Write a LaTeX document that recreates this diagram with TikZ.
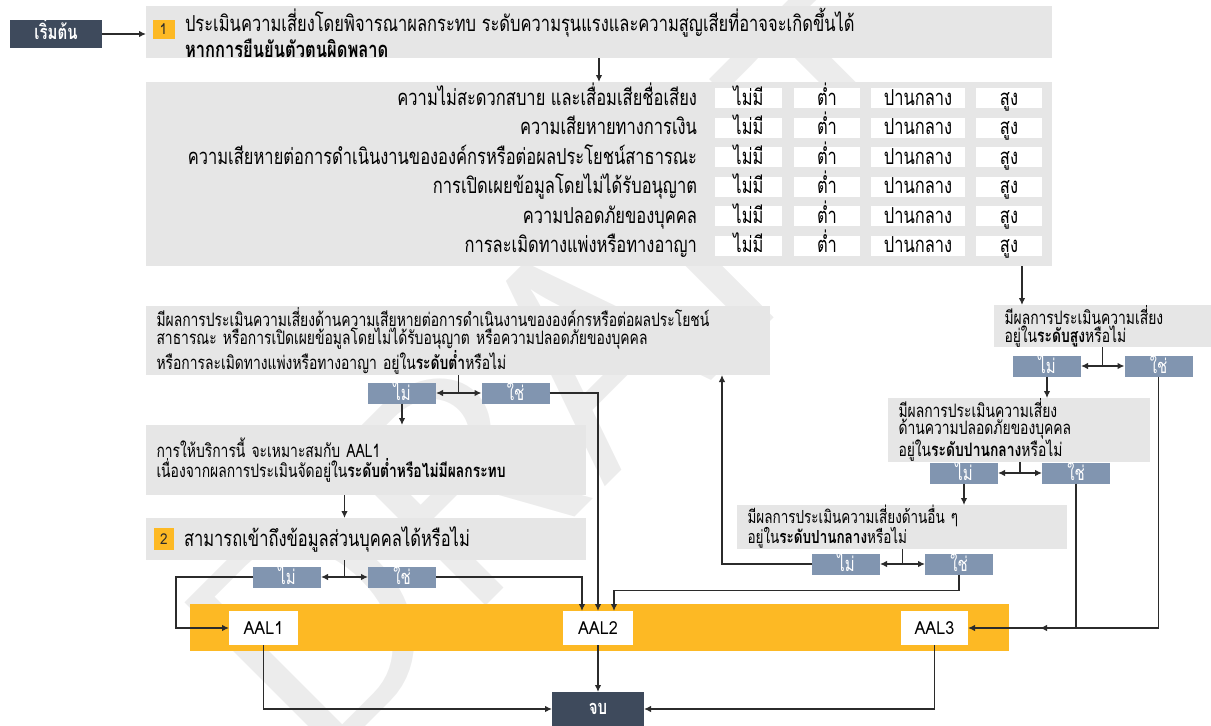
\documentclass[tikz,border=0pt]{standalone}
\usepackage{fontspec}
\setmainfont[Script=Thai,FakeStretch=0.75]{Loma}
\newfontfamily\aalfont[FakeStretch=0.9]{Loma}
\usetikzlibrary{arrows.meta,calc}

\definecolor{panelgray}{HTML}{E6E6E6}
\definecolor{slate}{HTML}{3E4A5C}
\definecolor{choiceblue}{HTML}{8195B0}
\definecolor{amber}{HTML}{FDB924}
\definecolor{ink}{HTML}{2B2B2B}

\begin{document}
\begin{tikzpicture}[x=1pt, y=-1pt,
	every node/.style={font=\fontsize{18.5}{18}\selectfont, inner sep=0pt, outer sep=0pt},
	>={Latex[length=7pt, width=6.5pt]},
	link/.style={draw=ink, line width=1.2pt},
	panel/.style={fill=panelgray, anchor=north west, align=left, inner xsep=10.5pt},
	oneline/.style={text height=#1, text depth=0pt},
	darkbox/.style={fill=slate, text=white, oneline=10pt, font=\fontsize{20}{20}\selectfont\bfseries},
	choice/.style={fill=choiceblue, text=white, minimum width=68pt, minimum height=21pt, oneline=14pt, font=\fontsize{20}{20}\selectfont},
	rowlabel/.style={anchor=east, oneline=14pt, font=\fontsize{22}{20}\selectfont},
	cell/.style={fill=white, minimum height=20pt, oneline=14pt, font=\fontsize{22}{20}\selectfont},
	aal/.style={fill=white, minimum height=34pt, oneline=13pt, font=\fontsize{18}{18}\selectfont\aalfont},
	badge/.style={fill=amber, text=ink, oneline=10.5pt, font=\fontsize{15}{15}\selectfont\aalfont}]
	\useasboundingbox (0,0) rectangle (1211,726);
	% watermark
	\node[rotate=45, text=gray!15, font=\fontsize{310}{310}\selectfont\sffamily] (wm) at (580,360) {DRAFT};

	% step 1
	\node[darkbox, minimum width=92pt, minimum height=28pt] (start) at (56,34) {เริ่มต้น};
	\node[fill=panelgray, minimum width=906pt, minimum height=52pt, anchor=north west] (step1) at (146,6) {};
	\node[badge, minimum width=22pt, minimum height=19pt] (one) at (163.5,29) {1};
	\node[anchor=west, align=left, font=\fontsize{22}{20}\selectfont] (step1txt) at (185,33) {ประเมินความเสี่ยงโดยพิจารณาผลกระทบ ระดับความรุนแรงและความสูญเสียที่อาจจะเกิดขึ้นได้\\\textbf{หากการยืนยันตัวตนผิดพลาด}};
	\draw[->, link] (start.east) -- (start.east -| step1.west);

	% impact table
	\node[fill=panelgray, minimum width=906pt, minimum height=184pt, anchor=north west] (table) at (146,82) {};
	\draw[->, link] (step1) -- (table);
	\foreach \lbl [count=\r] in {ความไม่สะดวกสบาย และเสื่อมเสียชื่อเสียง, ความเสียหายทางการเงิน, ความเสียหายต่อการดำเนินงานขององค์กรหรือต่อผลประโยชน์สาธารณะ, การเปิดเผยข้อมูลโดยไม่ได้รับอนุญาต, ความปลอดภัยของบุคคล, การละเมิดทางแพ่งหรือทางอาญา} {
		\pgfmathsetmacro\ry{98+29.5*(\r-1)}
		\node[rowlabel] (row\r) at (697,\ry) {\lbl};
		\node[cell, minimum width=67pt] (none\r) at (748.5,\ry) {ไม่มี};
		\node[cell, minimum width=66pt] (low\r) at (827,\ry) {ต่ำ};
		\node[cell, minimum width=94pt] (mid\r) at (918,\ry) {ปานกลาง};
		\node[cell, minimum width=66pt] (high\r) at (1009,\ry) {สูง};
	}

	% high level?
	\node[panel, minimum width=217pt, minimum height=42pt, text width=196pt] (qhigh) at (994,305) {มีผลการประเมินความเสี่ยง\\อยู่ใน\textbf{ระดับสูง}หรือไม่};
	\draw[->, link] (table.south -| 1022,0) -- (qhigh.north -| 1022,0);
	\node[choice] (hino) at (1047,366) {ไม่};
	\node[choice] (hiyes) at (1158.5,366) {ใช่};
	\coordinate (himid) at ($(hino.east)!.5!(hiyes.west)$);
	\draw[link] (qhigh.south -| himid) -- (himid);
	\draw[<->, link] (hino) -- (hiyes);

	% safety medium?
	\node[panel, minimum width=262pt, minimum height=59pt, text width=241pt, font=\fontsize{18.5}{17.5}\selectfont] (qsafe) at (888,398) {มีผลการประเมินความเสี่ยง\\ด้านความปลอดภัยของบุคคล\\อยู่ใน\textbf{ระดับปานกลาง}หรือไม่};
	\draw[->, link] (hino) -- (hino.south |- qsafe.north);
	\node[choice] (sfno) at (964,473) {ไม่};
	\node[choice] (sfyes) at (1076,473) {ใช่};
	\coordinate (sfmid) at ($(sfno.east)!.5!(sfyes.west)$);
	\draw[link] (qsafe.south -| sfmid) -- (sfmid);
	\draw[<->, link] (sfno) -- (sfyes);

	% other medium?
	\node[panel, minimum width=330pt, minimum height=41pt, text width=309pt, font=\fontsize{18}{16}\selectfont] (qother) at (737,505) {มีผลการประเมินความเสี่ยงด้านอื่น ๆ\\อยู่ใน\textbf{ระดับปานกลาง}หรือไม่};
	\draw[->, link] (sfno) -- (sfno.south |- qother.north);
	\node[choice] (otno) at (846,564) {ไม่};
	\node[choice] (otyes) at (959,564) {ใช่};
	\coordinate (otmid) at ($(otno.east)!.5!(otyes.west)$);
	\draw[link] (qother.south -| otmid) -- (otmid);
	\draw[<->, link] (otno) -- (otyes);

	% low level?
	\node[panel, minimum width=624pt, minimum height=69pt, text width=603pt] (qlow) at (146,306) {มีผลการประเมินความเสี่ยงด้านความเสียหายต่อการดำเนินงานขององค์กรหรือต่อผลประโยชน์\\สาธารณะ หรือการเปิดเผยข้อมูลโดยไม่ได้รับอนุญาต หรือความปลอดภัยของบุคคล\\หรือการละเมิดทางแพ่งหรือทางอาญา อยู่ใน\textbf{ระดับต่ำ}หรือไม่};
	\draw[->, link] (otno.west) -| (qlow.south -| 722,0);
	\node[choice] (lowno) at (402,393) {ไม่};
	\node[choice] (lowyes) at (515.5,393) {ใช่};
	\coordinate (lowmid) at ($(lowno.east)!.5!(lowyes.west)$);
	\draw[link] (qlow.south -| lowmid) -- (lowmid);
	\draw[<->, link] (lowno) -- (lowyes);

	% AAL1 service
	\node[panel, minimum width=440pt, minimum height=70pt, text width=419pt] (service) at (146,425) {การให้บริการนี้ จะเหมาะสมกับ AAL1\\เนื่องจากผลการประเมินจัดอยู่ใน\textbf{ระดับต่ำหรือไม่มีผลกระทบ}};
	\draw[->, link] (lowno) -- (lowno.south |- service.north);

	% step 2
	\node[fill=panelgray, minimum width=440pt, minimum height=42pt, anchor=north west] (step2) at (146,518) {};
	\node[badge, minimum width=20pt, minimum height=22pt] (two) at (164,539) {2};
	\node[anchor=west, oneline=14pt, font=\fontsize{22}{20}\selectfont] (step2txt) at (184,539) {สามารถเข้าถึงข้อมูลส่วนบุคคลได้หรือไม่};
	\node[choice] (b2no) at (287,577) {ไม่};
	\node[choice] (b2yes) at (402,577) {ใช่};
	\coordinate (b2mid) at ($(b2no.east)!.5!(b2yes.west)$);
	\draw[->, link] (service.south -| b2mid) -- (step2.north -| b2mid);
	\draw[link] (step2.south -| b2mid) -- (b2mid);
	\draw[<->, link] (b2no) -- (b2yes);

	% assurance levels
	\node[fill=amber, minimum width=819pt, minimum height=47pt, anchor=north west] (band) at (190,604) {};
	\node[aal, minimum width=69pt] (aal1) at (263.5,628) {AAL1};
	\node[aal, minimum width=70pt] (aal2) at (598,628) {AAL2};
	\node[aal, minimum width=67pt] (aal3) at (934.5,628) {AAL3};
	\node[darkbox, minimum width=92pt, minimum height=34pt] (finish) at (598,709) {จบ};

	\draw[->, link] (b2no.west) -- ++(-77,0) |- (aal1.west);
	\draw[->, link] (b2yes.east) -| ([xshift=-16pt]aal2.north);
	\draw[->, link] (lowyes.east) -| (aal2.north);
	\draw[->, link] (otyes.south) -- ++(0,16) -| ([xshift=16pt]aal2.north);
	\draw[->, link] (hiyes.south) |- ([xshift=72pt]aal3.east);
	\draw[->, link] (sfyes.south) |- (aal3.east);
	\draw[->, link] (aal1.south) |- (finish.west);
	\draw[->, link] (aal2) -- (finish);
	\draw[->, link] (aal3.south) |- (finish.east);
\end{tikzpicture}
\end{document}
